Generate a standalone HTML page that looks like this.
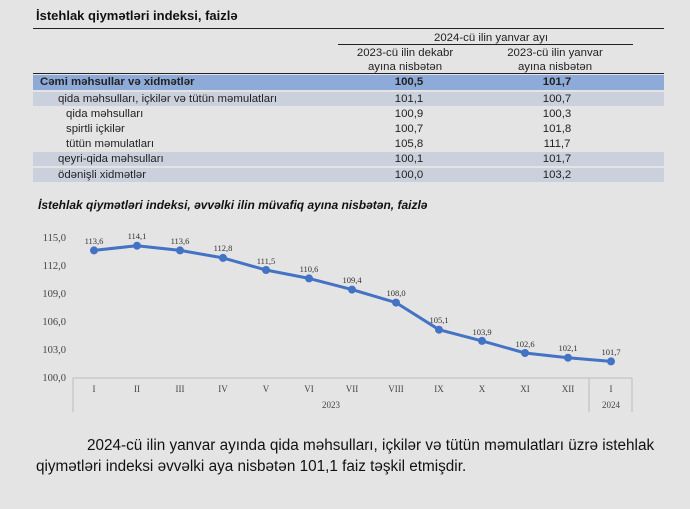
<!DOCTYPE html><html><head><style>
body{margin:0;width:690px;height:509px;background:#e4e4e4;font-family:"Liberation Sans",sans-serif;position:relative;overflow:hidden}
.a{position:absolute;white-space:nowrap}
.t{font-size:11.4px;color:#222}
.c{transform:translateX(-50%);text-align:center}
.band{position:absolute;left:33px;width:631px;background:#cbd1dc}
</style></head><body>
<div class="a" style="left:36px;top:8px;font-size:13px;font-weight:bold;color:#111">İstehlak qiymətləri indeksi, faizlə</div>
<div class="a" style="left:33px;top:28px;width:631px;border-top:1px solid #222"></div>
<div class="a t c" style="left:491px;top:32px">2024-cü ilin yanvar ayı</div>
<div class="a" style="left:338px;top:44px;width:295px;border-top:1px solid #222"></div>
<div class="a t c" style="left:405px;top:46px;line-height:14px">2023-cü ilin dekabr<br>ayına nisbətən</div>
<div class="a t c" style="left:555px;top:46px;line-height:14px">2023-cü ilin yanvar<br>ayına nisbətən</div>
<div class="a" style="left:33px;top:73px;width:631px;border-top:1.5px solid #222"></div>
<div class="a" style="left:33px;top:75px;width:631px;height:15px;background:#8eaad8"></div>
<div class="band" style="top:92px;height:14px"></div>
<div class="band" style="top:152px;height:14px"></div>
<div class="band" style="top:168px;height:14px"></div>
<div class="a t" style="left:40px;top:76px;font-weight:bold">Cəmi məhsullar və xidmətlər</div>
<div class="a t c" style="left:409px;top:76px;font-weight:bold">100,5</div>
<div class="a t c" style="left:557px;top:76px;font-weight:bold">101,7</div>
<div class="a t" style="left:58px;top:93px">qida məhsulları, içkilər və tütün məmulatları</div>
<div class="a t c" style="left:409px;top:93px">101,1</div><div class="a t c" style="left:557px;top:93px">100,7</div>
<div class="a t" style="left:66px;top:108px">qida məhsulları</div>
<div class="a t c" style="left:409px;top:108px">100,9</div><div class="a t c" style="left:557px;top:108px">100,3</div>
<div class="a t" style="left:66px;top:123px">spirtli içkilər</div>
<div class="a t c" style="left:409px;top:123px">100,7</div><div class="a t c" style="left:557px;top:123px">101,8</div>
<div class="a t" style="left:66px;top:138px">tütün məmulatları</div>
<div class="a t c" style="left:409px;top:138px">105,8</div><div class="a t c" style="left:557px;top:138px">111,7</div>
<div class="a t" style="left:58px;top:153px">qeyri-qida məhsulları</div>
<div class="a t c" style="left:409px;top:153px">100,1</div><div class="a t c" style="left:557px;top:153px">101,7</div>
<div class="a t" style="left:58px;top:169px">ödənişli xidmətlər</div>
<div class="a t c" style="left:409px;top:169px">100,0</div><div class="a t c" style="left:557px;top:169px">103,2</div>
<div class="a" style="left:38px;top:198px;font-size:12px;font-weight:bold;font-style:italic;color:#111">İstehlak qiymətləri indeksi, əvvəlki ilin müvafiq ayına nisbətən, faizlə</div>
<svg class="a" style="left:0;top:0" width="690" height="509" font-family="Liberation Serif" font-size="8.5" fill="#444">
<g text-anchor="end" font-size="10.5">
<text x="66" y="241">115,0</text><text x="66" y="269">112,0</text><text x="66" y="297">109,0</text><text x="66" y="325">106,0</text><text x="66" y="353">103,0</text><text x="66" y="381">100,0</text>
</g>
<g stroke="#bbb" stroke-width="1"><line x1="73" y1="378" x2="632" y2="378"/><line x1="73" y1="378" x2="73" y2="412"/><line x1="589" y1="378" x2="589" y2="412"/><line x1="632" y1="378" x2="632" y2="412"/></g>
<g text-anchor="middle" font-size="9">
<text x="94" y="392">I</text><text x="137" y="392">II</text><text x="180" y="392">III</text><text x="223" y="392">IV</text><text x="266" y="392">V</text><text x="309" y="392">VI</text><text x="352" y="392">VII</text><text x="396" y="392">VIII</text><text x="439" y="392">IX</text><text x="482" y="392">X</text><text x="525" y="392">XI</text><text x="568" y="392">XII</text><text x="611" y="392">I</text>
<text x="331" y="408">2023</text><text x="611" y="408">2024</text>
</g>
<polyline fill="none" stroke="#4472c4" stroke-width="3" stroke-linejoin="round" points="94,344.4 137,339.7 180,344.4 223,351.9 266,364 309,372.4 352,383.6 396,396.6 439,423.7 482,434.9 525,447 568,451.7 611,455.4" transform="translate(0,-94)"/>
<g fill="#4472c4" transform="translate(0,-94)">
<circle cx="94" cy="344.4" r="4"/><circle cx="137" cy="339.7" r="4"/><circle cx="180" cy="344.4" r="4"/><circle cx="223" cy="351.9" r="4"/><circle cx="266" cy="364" r="4"/><circle cx="309" cy="372.4" r="4"/><circle cx="352" cy="383.6" r="4"/><circle cx="396" cy="396.6" r="4"/><circle cx="439" cy="423.7" r="4"/><circle cx="482" cy="434.9" r="4"/><circle cx="525" cy="447" r="4"/><circle cx="568" cy="451.7" r="4"/><circle cx="611" cy="455.4" r="4"/>
</g>
<g text-anchor="middle" fill="#333">
<text x="94" y="244">113,6</text><text x="137" y="239">114,1</text><text x="180" y="244">113,6</text><text x="223" y="251">112,8</text><text x="266" y="264">111,5</text><text x="309" y="272">110,6</text><text x="352" y="283">109,4</text><text x="396" y="296">108,0</text><text x="439" y="323">105,1</text><text x="482" y="335">103,9</text><text x="525" y="347">102,6</text><text x="568" y="351">102,1</text><text x="611" y="355">101,7</text>
</g>
</svg>
<div class="a" style="left:36px;top:435px;width:630px;font-size:15.3px;line-height:21px;color:#111;white-space:normal;text-indent:51px">2024-cü ilin yanvar ayında qida məhsulları, içkilər və tütün məmulatları üzrə istehlak qiymətləri indeksi əvvəlki aya nisbətən 101,1 faiz təşkil etmişdir.</div>
</body></html>
